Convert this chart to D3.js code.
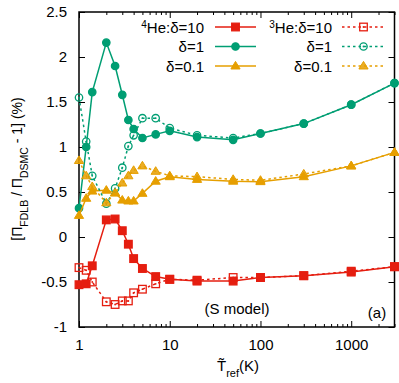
<!DOCTYPE html>
<html>
<head>
  <meta charset="utf-8">
  <style>
    body { margin: 0; background: #fff; }
    text { font-family: "Liberation Sans", Arial, sans-serif; fill: #000; }
  </style>
</head>
<body>
  <div id="chart"></div>
  <script src="https://d3js.org/d3.v7.min.js"></script>
  <script>
    // Temperatures (K) and deviations (%)
    const temps = [1, 1.2, 1.4, 2, 2.5, 3, 3.5, 4, 5, 7, 10, 20, 50, 100, 300, 1000, 3000];
    const he4D10 = [-0.53, -0.52, -0.32, 0.19, 0.2, 0.07, -0.08, -0.24, -0.35, -0.44, -0.47, -0.49, -0.49, -0.45, -0.43, -0.39, -0.33];
    const he3D10 = [-0.34, -0.37, -0.5, -0.72, -0.75, -0.71, -0.71, -0.62, -0.58, -0.52, -0.47, -0.48, -0.45, -0.45, -0.43, -0.38, -0.33];
    const he4D1 = [0.32, 1.0, 1.61, 2.16, 1.9, 1.58, 1.3, 1.2, 1.1, 1.14, 1.18, 1.11, 1.08, 1.15, 1.26, 1.47, 1.71];
    const he3D1 = [1.55, 1.06, 0.68, 0.37, 0.54, 0.77, 1.01, 1.13, 1.32, 1.32, 1.21, 1.13, 1.1, 1.15, 1.26, 1.47, 1.71];
    const he4D01 = [0.24, 0.43, 0.51, 0.52, 0.49, 0.41, 0.4, 0.4, 0.485, 0.62, 0.67, 0.64, 0.62, 0.615, 0.67, 0.79, 0.94];
    const he3D01 = [0.85, 0.68, 0.56, 0.38, 0.49, 0.6, 0.68, 0.74, 0.79, 0.73, 0.68, 0.67, 0.64, 0.63, 0.7, 0.79, 0.94];
    const yTicks = [-1, -0.5, 0, 0.5, 1, 1.5, 2, 2.5];
    const xTicks = [1, 10, 100, 1000];

    const red = "#e51e10", green = "#009e73", orange = "#e69f00";

    const series = [
      { vals: he4D10, color: red, mark: "square", open: false, col: 0, row: 0 },
      { vals: he4D1, color: green, mark: "circle", open: false, col: 0, row: 1 },
      { vals: he4D01, color: orange, mark: "triangle", open: false, col: 0, row: 2 },
      { vals: he3D10, color: red, mark: "square", open: true, col: 1, row: 0 },
      { vals: he3D1, color: green, mark: "circle", open: true, col: 1, row: 1 },
      { vals: he3D01, color: orange, mark: "triangle", open: true, col: 1, row: 2 }
    ];

    const width = 399, height = 383;
    const margin = { left: 79, right: 4.5, top: 12, bottom: 56 };

    const svg = d3.select("#chart").append("svg")
      .attr("width", width)
      .attr("height", height);

    const x = d3.scaleLog().domain([1, 3000]).range([margin.left, width - margin.right]);
    const y = d3.scaleLinear().domain([-1, 2.5]).range([height - margin.bottom, margin.top]);

    const x0 = x.range()[0], x1 = x.range()[1];
    const y0 = y.range()[0], y1 = y.range()[1];

    // Axes: ticks pointing inward, mirrored on top and right
    const minorX = [];
    for (let d = 1; d <= 1000; d *= 10) {
      for (let k = 2; k <= 9; k++) if (d * k <= 3000) minorX.push(d * k);
    }

    const xAxis = svg.append("g")
      .attr("transform", `translate(0,${y0})`)
      .call(d3.axisBottom(x).tickValues(xTicks).tickFormat(d3.format("d")).tickSizeInner(-6).tickSizeOuter(0).tickPadding(12));
    xAxis.select(".domain").remove();
    xAxis.selectAll("text").style("font-size", "15px").style("font-family", "Liberation Sans, Arial, sans-serif");

    svg.append("g").attr("transform", `translate(0,${y0})`)
      .call(d3.axisBottom(x).tickValues(minorX).tickFormat("").tickSizeInner(-3).tickSizeOuter(0))
      .select(".domain").remove();
    svg.append("g").attr("transform", `translate(0,${y1})`)
      .call(d3.axisTop(x).tickValues(xTicks).tickFormat("").tickSizeInner(-6).tickSizeOuter(0))
      .select(".domain").remove();
    svg.append("g").attr("transform", `translate(0,${y1})`)
      .call(d3.axisTop(x).tickValues(minorX).tickFormat("").tickSizeInner(-3).tickSizeOuter(0))
      .select(".domain").remove();

    const yAxis = svg.append("g")
      .attr("transform", `translate(${x0},0)`)
      .call(d3.axisLeft(y).tickValues(yTicks).tickFormat(d => String(d)).tickSizeInner(-6).tickSizeOuter(0).tickPadding(12));
    yAxis.select(".domain").remove();
    yAxis.selectAll("text").style("font-size", "15px").style("font-family", "Liberation Sans, Arial, sans-serif");

    svg.append("g").attr("transform", `translate(${x1},0)`)
      .call(d3.axisRight(y).tickValues(yTicks).tickFormat("").tickSizeInner(-6).tickSizeOuter(0))
      .select(".domain").remove();

    svg.selectAll(".tick line").attr("stroke", "#000").attr("stroke-width", 1);

    // Frame
    svg.append("rect")
      .attr("x", x0).attr("y", y1)
      .attr("width", x1 - x0).attr("height", y0 - y1)
      .attr("fill", "none").attr("stroke", "#000").attr("stroke-width", 1.5);

    // Markers
    function drawMarker(g, kind, open, color, cx, cy) {
      const fill = open ? "none" : color;
      if (kind === "square") {
        g.append("rect").attr("x", cx - 3.8).attr("y", cy - 3.8).attr("width", 7.6).attr("height", 7.6)
          .attr("fill", fill).attr("stroke", color).attr("stroke-width", 1.3);
      } else if (kind === "circle") {
        g.append("circle").attr("cx", cx).attr("cy", cy).attr("r", 3.7)
          .attr("fill", fill).attr("stroke", color).attr("stroke-width", 1.3);
      } else {
        const s = 4.6;
        g.append("path")
          .attr("d", `M${cx},${cy - s}L${cx + s},${cy + s * 0.65}L${cx - s},${cy + s * 0.65}Z`)
          .attr("fill", color)
          .attr("fill-opacity", open ? 0.85 : 1)
          .attr("stroke", color).attr("stroke-width", 1);
      }
      if (open && kind !== "triangle") {
        g.append("circle").attr("cx", cx).attr("cy", cy).attr("r", 0.9).attr("fill", color);
      }
    }

    const line = d3.line().x(d => x(d[0])).y(d => y(d[1]));

    series.forEach(s => {
      const pts = temps.map((t, i) => [t, s.vals[i]]);
      const g = svg.append("g");
      g.append("path")
        .attr("d", line(pts))
        .attr("fill", "none")
        .attr("stroke", s.color)
        .attr("stroke-width", 1.5)
        .attr("stroke-dasharray", s.open ? "2.5,3" : null);
      pts.forEach(p => drawMarker(g, s.mark, s.open, s.color, x(p[0]), y(p[1])));
    });

    // Legend
    const legendRows = [27, 46.5, 66];
    const legendCols = [{ textX: 204, lineX: [215, 256] }, { textX: 332, lineX: [342, 385] }];
    const labels = [
      ["He:\u03b4=10", "\u03b4=1", "\u03b4=0.1"],
      ["He:\u03b4=10", "\u03b4=1", "\u03b4=0.1"]
    ];
    const leg = svg.append("g");
    series.forEach(s => {
      const c = legendCols[s.col], ly = legendRows[s.row];
      const t = leg.append("text")
        .attr("x", c.textX).attr("y", ly + 5.5)
        .attr("text-anchor", "end")
        .style("font-size", "15px");
      if (s.row === 0) {
        t.append("tspan").attr("baseline-shift", "super").style("font-size", "10px")
          .text(s.col === 0 ? "4" : "3");
      }
      t.append("tspan").text(labels[s.col][s.row]);
      leg.append("line")
        .attr("x1", c.lineX[0]).attr("x2", c.lineX[1])
        .attr("y1", ly).attr("y2", ly)
        .attr("stroke", s.color).attr("stroke-width", 1.5)
        .attr("stroke-dasharray", s.open ? "2.5,3" : null);
      drawMarker(leg, s.mark, s.open, s.color, (c.lineX[0] + c.lineX[1]) / 2, ly);
    });

    // Annotations
    svg.append("text").attr("x", 237).attr("y", 314).attr("text-anchor", "middle")
      .style("font-size", "15px").text("(S model)");
    svg.append("text").attr("x", 377).attr("y", 318).attr("text-anchor", "middle")
      .style("font-size", "15px").text("(a)");

    // Axis titles
    const xt = svg.append("text").attr("x", 238).attr("y", 371).attr("text-anchor", "middle")
      .style("font-size", "15px");
    xt.append("tspan").text("T\u0303");
    xt.append("tspan").attr("baseline-shift", "sub").style("font-size", "11px").text("ref");
    xt.append("tspan").text("(K)");

    const yt = svg.append("text")
      .attr("transform", `translate(22,169) rotate(-90)`)
      .attr("text-anchor", "middle")
      .style("font-size", "14px");
    yt.append("tspan").text("[\u03a0");
    yt.append("tspan").attr("baseline-shift", "sub").style("font-size", "10.5px").text("FDLB");
    yt.append("tspan").text(" / \u03a0");
    yt.append("tspan").attr("baseline-shift", "sub").style("font-size", "10.5px").text("DSMC");
    yt.append("tspan").text(" - 1] (%)");
  </script>
</body>
</html>
